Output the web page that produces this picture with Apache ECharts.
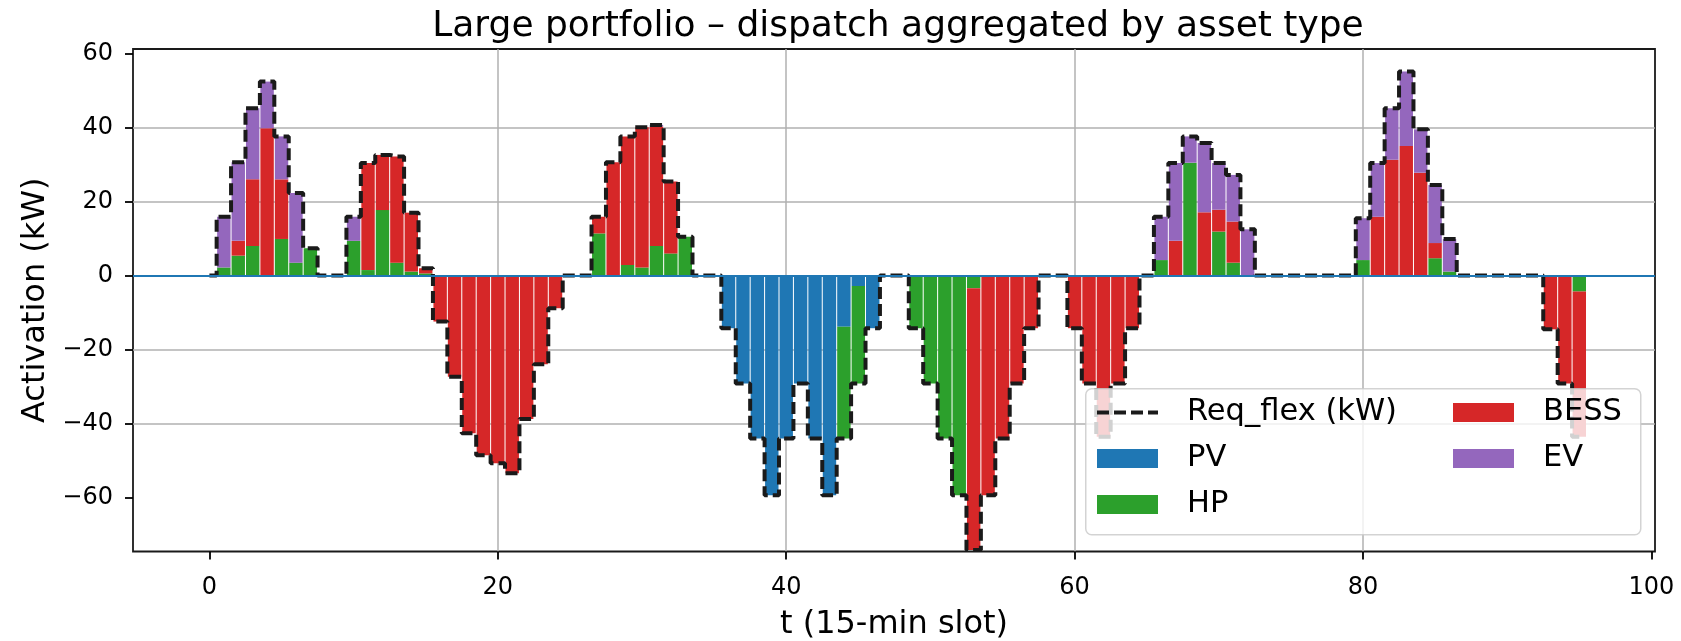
<!DOCTYPE html>
<html>
<head>
<meta charset="utf-8">
<title>Large portfolio – dispatch aggregated by asset type</title>
<script src="https://cdn.jsdelivr.net/npm/echarts@6.0.0/dist/echarts.min.js"></script>
<style>
  html, body { margin: 0; padding: 0; background: #fff; }
  #chart { width: 1681px; height: 641px; }
</style>
</head>
<body>
<div id="chart"></div>
<script>
// 15-min slots of the day
const slots = [
  0, 1, 2, 3, 4, 5, 6, 7, 8, 9, 10, 11, 12, 13, 14, 15,
  16, 17, 18, 19, 20, 21, 22, 23, 24, 25, 26, 27, 28, 29, 30, 31,
  32, 33, 34, 35, 36, 37, 38, 39, 40, 41, 42, 43, 44, 45, 46, 47,
  48, 49, 50, 51, 52, 53, 54, 55, 56, 57, 58, 59, 60, 61, 62, 63,
  64, 65, 66, 67, 68, 69, 70, 71, 72, 73, 74, 75, 76, 77, 78, 79,
  80, 81, 82, 83, 84, 85, 86, 87, 88, 89, 90, 91, 92, 93, 94, 95
]

// requested flexibility (kW)
const reqFlex = [
  0, 15.9, 30.6, 45.2, 52.4, 37.6, 22.3, 7.4, 0, 0, 15.9, 30.4, 32.6, 32.2, 17.0, 2.0,
  -12.4, -27.3, -42.6, -48.5, -50.7, -53.4, -38.7, -23.9, -8.8, 0, 0, 15.9, 30.6, 37.6, 40.1, 40.7,
  25.4, 10.5, 0, 0, -14.2, -29.1, -44.0, -59.3, -44.0, -29.1, -44.0, -59.3, -44.0, -29.1, -14.2, 0,
  0, -14.2, -29.1, -44.0, -59.3, -74.1, -59.3, -44.0, -29.1, -14.2, 0, 0, -14.2, -29.1, -43.5, -29.1,
  -14.2, 0, 15.9, 30.4, 37.6, 35.8, 30.4, 27.2, 12.5, 0, 0, 0, 0, 0, 0, 0,
  15.5, 30.4, 45.2, 55.1, 39.5, 24.5, 9.9, 0, 0, 0, 0, 0, 0, -14.5, -29.1, -43.5
]

// dispatch per asset type (kW)
const pv = [
  0, 0, 0, 0, 0, 0, 0, 0, 0, 0, 0, 0, 0, 0, 0, 0,
  0, 0, 0, 0, 0, 0, 0, 0, 0, 0, 0, 0, 0, 0, 0, 0,
  0, 0, 0, 0, -14.2, -29.1, -44.0, -59.3, -44.0, -29.1, -44.0, -59.3, -13.8, -2.8, -14.2, 0,
  0, 0, 0, 0, 0, 0, 0, 0, 0, 0, 0, 0, 0, 0, 0, 0,
  0, 0, 0, 0, 0, 0, 0, 0, 0, 0, 0, 0, 0, 0, 0, 0,
  0, 0, 0, 0, 0, 0, 0, 0, 0, 0, 0, 0, 0, 0, 0, 0
]
const hp = [
  0, 2.2, 5.4, 8.0, 0, 9.9, 3.5, 7.4, 0, 0, 9.4, 1.5, 17.7, 3.5, 1.1, 0.6,
  0, 0, 0, 0, 0, 0, 0, 0, 0, 0, 0, 11.4, 0, 2.9, 2.2, 8.0,
  6.0, 10.5, 0, 0, 0, 0, 0, 0, 0, 0, 0, 0, -30.2, -26.3, 0, 0,
  0, -14.2, -29.1, -44.0, -59.3, -3.4, 0, 0, 0, 0, 0, 0, 0, 0, 0, 0,
  0, 0, 4.2, 0, 30.5, 0, 11.9, 3.5, 0, 0, 0, 0, 0, 0, 0, 0,
  4.2, 0, 0, 0, 0, 4.7, 1.1, 0, 0, 0, 0, 0, 0, 0, 0, -4.3
]
const bess = [
  0, 0, 4.0, 18.0, 39.8, 16.1, 0, 0, 0, 0, 0, 28.9, 14.9, 28.7, 15.9, 1.4,
  -12.4, -27.3, -42.6, -48.5, -50.7, -53.4, -38.7, -23.9, -8.8, 0, 0, 4.5, 30.6, 34.7, 37.9, 32.3,
  19.4, 0, 0, 0, 0, 0, 0, 0, 0, 0, 0, 0, 0, 0, 0, 0,
  0, 0, 0, 0, 0, -70.7, -59.3, -44.0, -29.1, -14.2, 0, 0, -14.2, -29.1, -43.5, -29.1,
  -14.2, 0, 0, 9.4, 0, 17.1, 5.9, 11.1, 0, 0, 0, 0, 0, 0, 0, 0,
  0, 15.9, 31.3, 35.0, 27.8, 4.1, 0, 0, 0, 0, 0, 0, 0, -14.5, -29.1, -39.2
]
const ev = [
  0, 13.7, 21.2, 19.2, 12.6, 11.6, 18.8, 0, 0, 0, 6.5, 0, 0, 0, 0, 0,
  0, 0, 0, 0, 0, 0, 0, 0, 0, 0, 0, 0, 0, 0, 0, 0.4,
  0, 0, 0, 0, 0, 0, 0, 0, 0, 0, 0, 0, 0, 0, 0, 0,
  0, 0, 0, 0, 0, 0, 0, 0, 0, 0, 0, 0, 0, 0, 0, 0,
  0, 0, 11.7, 21.0, 7.1, 18.7, 12.6, 12.6, 12.5, 0, 0, 0, 0, 0, 0, 0,
  11.3, 14.5, 13.9, 20.1, 11.7, 15.7, 8.8, 0, 0, 0, 0, 0, 0, 0, 0, 0
]

// axis ticks
const xTicks = [0, 20, 40, 60, 80, 100]
const yTicks = [-60, -40, -20, 0, 20, 40, 60]

const FONT = 'DejaVu Sans'

// matplotlib style minus sign
const fmtTick = (v) => String(v).replace('-', '\u2212')

function initChart () {
  const chart = echarts.init(document.getElementById('chart'), null, { renderer: 'canvas' })

  // bars: [value, slot] with encode so stacking runs on the y dimension
  const barSeries = (name, values, color) => ({
    name: name,
    type: 'bar',
    stack: 'dispatch',
    barWidth: '93%',
    encode: { x: 1, y: 0 },
    data: values.map((v, i) => [v, slots[i]]),
    itemStyle: { color: color },
    emphasis: { disabled: true },
    z: 2
  })

  const pvSeries = barSeries('PV', pv, '#1f77b4')
  // zero line (axhline)
  pvSeries.markLine = {
    silent: true,
    symbol: 'none',
    label: { show: false },
    lineStyle: { color: '#1f77b4', width: 2, type: 'solid' },
    data: [{ yAxis: 0 }],
    z: 5
  }

  const axisText = { fontFamily: FONT, fontSize: 24, color: '#000' }
  const nameText = { fontFamily: FONT, fontSize: 32, color: '#000' }
  const legendText = {
    fontFamily: FONT,
    fontSize: 30.5,
    color: '#000',
    padding: [0, 0, 0, 24]
  }
  const tickStyle = { color: '#000', width: 1.8 }
  const gridLine = { color: '#b0b0b0', width: 1.5 }

  chart.setOption({
    animation: false,
    title: {
      text: 'Large portfolio – dispatch aggregated by asset type',
      left: 893,
      top: 4,
      textAlign: 'center',
      textStyle: { fontFamily: FONT, fontSize: 36, fontWeight: 'normal', color: '#000' }
    },
    grid: {
      left: 133,
      right: 26,
      top: 49,
      bottom: 89.5,
      containLabel: false,
      outerBoundsMode: 'none',
      show: true,
      backgroundColor: 'transparent',
      borderColor: '#1a1a1a',
      borderWidth: 1.8
    },
    xAxis: {
      type: 'value',
      min: -5.3,
      max: 100.25,
      splitNumber: 5,
      name: 't (15-min slot)',
      nameLocation: 'middle',
      nameGap: 57,
      nameTextStyle: nameText,
      axisLine: { show: false, onZero: false },
      axisTick: { show: true, length: 8, customValues: xTicks, lineStyle: tickStyle },
      axisLabel: Object.assign({ margin: 24, customValues: xTicks, formatter: fmtTick }, axisText),
      splitLine: { show: true, showMinLine: false, showMaxLine: false, lineStyle: gridLine }
    },
    yAxis: {
      type: 'value',
      min: -74.5,
      max: 61.2,
      splitNumber: 7,
      name: 'Activation (kW)',
      nameLocation: 'middle',
      nameGap: 76,
      nameTextStyle: nameText,
      axisLine: { show: false, onZero: false },
      axisTick: { show: true, length: 8, customValues: yTicks, lineStyle: tickStyle },
      axisLabel: Object.assign({ margin: 20, customValues: yTicks, formatter: fmtTick }, axisText),
      splitLine: { show: true, showMinLine: false, showMaxLine: false, lineStyle: gridLine }
    },
    // legend frame
    graphic: [
      {
        type: 'rect',
        left: 1085,
        top: 388,
        shape: { width: 555, height: 146, r: 6 },
        style: { fill: 'rgba(255,255,255,0.8)', stroke: 'rgba(200,200,200,0.8)', lineWidth: 1.5 },
        z: 15,
        silent: true
      }
    ],
    legend: [
      {
        orient: 'vertical',
        left: 1090,
        top: 392,
        itemGap: 15,
        itemWidth: 61,
        itemHeight: 19,
        selectedMode: false,
        lineStyle: { width: 4 },
        textStyle: legendText,
        data: [
          { name: 'Req_flex (kW)', itemStyle: { opacity: 0 } },
          { name: 'PV', icon: 'rect' },
          { name: 'HP', icon: 'rect' }
        ],
        z: 20
      },
      {
        orient: 'vertical',
        left: 1448,
        top: 392,
        itemGap: 15,
        itemWidth: 61,
        itemHeight: 19,
        selectedMode: false,
        textStyle: legendText,
        data: [
          { name: 'BESS', icon: 'rect' },
          { name: 'EV', icon: 'rect' }
        ],
        z: 20
      }
    ],
    series: [
      {
        name: 'Req_flex (kW)',
        type: 'line',
        step: 'middle',
        symbol: 'none',
        showSymbol: false,
        data: reqFlex.map((v, i) => [slots[i], v]),
        itemStyle: { color: '#1a1a1a' },
        lineStyle: { color: '#1a1a1a', width: 4, type: [12, 5] },
        emphasis: { disabled: true },
        z: 4
      },
      pvSeries,
      barSeries('HP', hp, '#2ca02c'),
      barSeries('BESS', bess, '#d62728'),
      barSeries('EV', ev, '#9467bd')
    ]
  })
  return chart
}

initChart()
</script>
</body>
</html>
